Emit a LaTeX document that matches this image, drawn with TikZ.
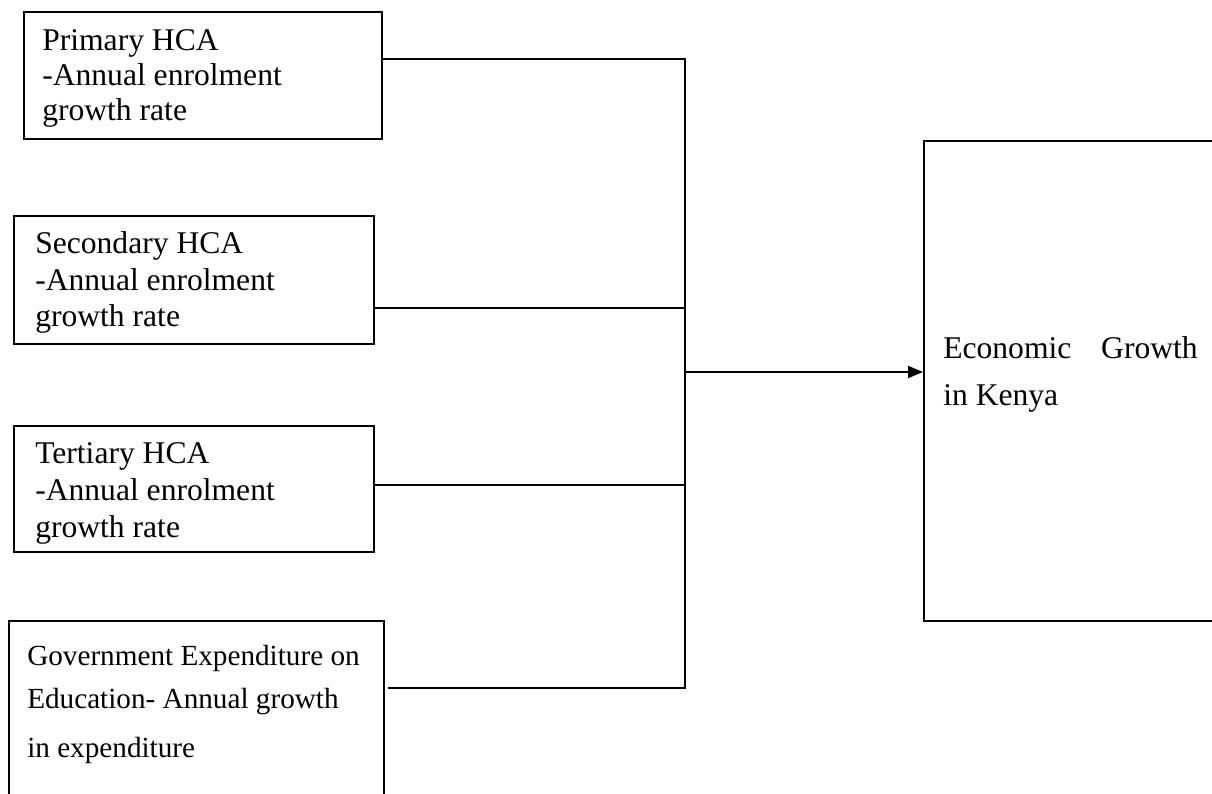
\documentclass[tikz,border=0pt]{standalone}
\usepackage{fontspec}
\setmainfont{Liberation Serif}
\usetikzlibrary{arrows.meta}
\begin{document}
\begin{tikzpicture}[x=0.75pt,y=-0.75pt,
  boxline/.style={draw=black,line width=1.3pt},
  wire/.style={draw=black,line width=1.3pt},
  txt/.style={anchor=base west,inner sep=0pt,font=\fontsize{23.7pt}{26pt}\selectfont},
  txtsmall/.style={anchor=base west,inner sep=0pt,font=\fontsize{21.9pt}{26pt}\selectfont}]
\useasboundingbox (0,0) rectangle (1212,793);
\clip (0,0) rectangle (1212,793);
% boxes
\node[boxline,minimum width=358*0.75pt,minimum height=127*0.75pt,anchor=north west,inner sep=0pt] (b1) at (23,11) {};
\node[boxline,minimum width=360*0.75pt,minimum height=128*0.75pt,anchor=north west,inner sep=0pt] (b2) at (13,215) {};
\node[boxline,minimum width=360*0.75pt,minimum height=126*0.75pt,anchor=north west,inner sep=0pt] (b3) at (13,425) {};
\node[boxline,minimum width=375*0.75pt,minimum height=200*0.75pt,anchor=north west,inner sep=0pt] (b4) at (8,620) {};
\node[boxline,minimum width=320*0.75pt,minimum height=480*0.75pt,anchor=north west,inner sep=0pt] (rb) at (923,140) {};
% texts
\node[txt] (t1a) at (42,50) {Primary HCA};
\node[txt] (t1b) at (42,85) {-Annual enrolment};
\node[txt] (t1c) at (42,120) {growth rate};
\node[txt] (t2a) at (35,253) {Secondary HCA};
\node[txt] (t2b) at (35,290) {-Annual enrolment};
\node[txt] (t2c) at (35,326) {growth rate};
\node[txt] (t3a) at (35,463) {Tertiary HCA};
\node[txt] (t3b) at (35,500) {-Annual enrolment};
\node[txt] (t3c) at (35,537) {growth rate};
\node[txtsmall] (t4a) at (27,665) {Government Expenditure on};
\node[txtsmall] (t4b) at (27,708) {Education- Annual growth};
\node[txtsmall] (t4c) at (27,757) {in expenditure};
\node[txt] (r1) at (943,358) {Economic};
\node[txt,anchor=base east] (r2) at (1198,358) {Growth};
\node[txt] (r3) at (943,405) {in Kenya};
% connectors
\coordinate (j1) at (685,59);
\coordinate (j2) at (685,308);
\coordinate (j3) at (685,485);
\coordinate (j4) at (685,688);
\coordinate (ja) at (685,372);
\draw[wire] (b1.east |- j1) -- (j1);
\draw[wire] (b2.east |- j2) -- (j2);
\draw[wire] (b3.east |- j3) -- (j3);
\draw[wire] ([xshift=3*0.75pt]b4.east |- j4) -- (j4);
\draw[wire,line cap=rect] (j1) -- (j4);
\draw[wire,-{Triangle[length=15*0.75pt,width=12*0.75pt]}] (ja) -- (rb.west |- ja);
\end{tikzpicture}
\end{document}
